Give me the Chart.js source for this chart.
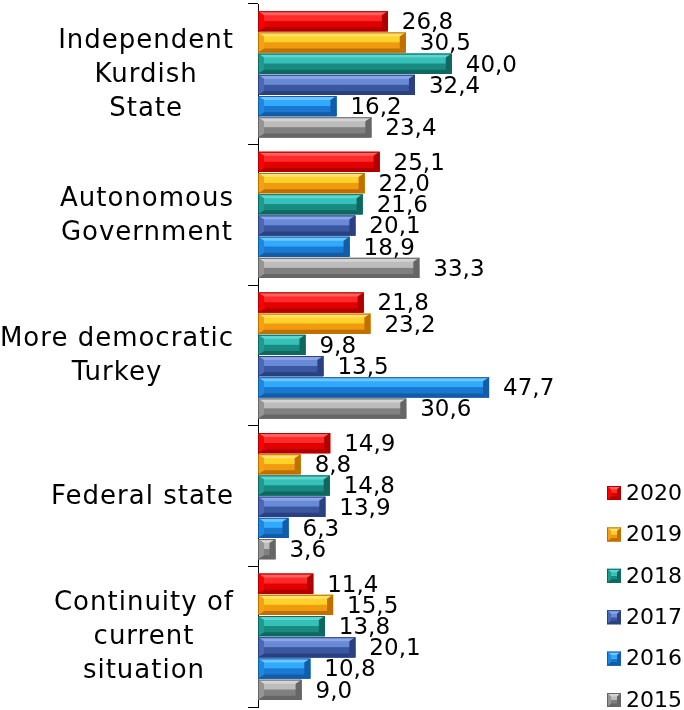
<!DOCTYPE html>
<html>
<head>
<meta charset="utf-8">
<script src="https://cdn.jsdelivr.net/npm/chart.js@4"></script>
<style>
  html, body { margin: 0; padding: 0; background: #fff; }
  #wrap { width: 684px; height: 710px; }
</style>
</head>
<body>
<div id="wrap"><canvas id="prefChart"></canvas></div>
<script>
// Categories (multi-line labels)
const categories = [
    ['Independent', 'Kurdish', 'State'],
    ['Autonomous', 'Government'],
    ['More democratic', 'Turkey'],
    ['Federal state'],
    ['Continuity of', 'current', 'situation']
];

const years = ['2020', '2019', '2018', '2017', '2016', '2015'];

// Values per year (%)
const values2020 = [26.8, 25.1, 21.8, 14.9, 11.4];
const values2019 = [30.5, 22.0, 23.2, 8.8, 15.5];
const values2018 = [40.0, 21.6, 9.8, 14.8, 13.8];
const values2017 = [32.4, 20.1, 13.5, 13.9, 20.1];
const values2016 = [16.2, 18.9, 47.7, 6.3, 10.8];
const values2015 = [23.4, 33.3, 30.6, 3.6, 9.0];

// face / light / dark / edge colours for the bevel look
const palette = [
    { face: '#ff0000', light: '#ff2a2a', dark: '#e00000', top: '#ff6060', bottom: '#b00000' },
    { face: '#f5a010', light: '#ffd22a', dark: '#f09a10', top: '#ffe070', bottom: '#c07000' },
    { face: '#1f9a90', light: '#36c0b8', dark: '#188a80', top: '#5cd6ce', bottom: '#0f6860' },
    { face: '#4a68b8', light: '#6a8ad8', dark: '#3a58a0', top: '#8aa6e6', bottom: '#2a4080' },
    { face: '#1e88e0', light: '#30aaff', dark: '#1a78d0', top: '#70c6ff', bottom: '#125ca8' },
    { face: '#959595', light: '#bcbcbc', dark: '#808080', top: '#d4d4d4', bottom: '#666666' }
];

const seriesValues = [values2020, values2019, values2018, values2017, values2016, values2015];

// Draw bevelled faces on top of each bar element
function bevelRect(ctx, c, x0, x1, y0, y1, b) {
    const mid = (y0 + y1) / 2;
    const t = Math.min(4, (y1 - y0) / 4);
    ctx.fillStyle = c.light;
    ctx.fillRect(x0, y0, x1 - x0, mid - y0);
    ctx.fillStyle = c.dark;
    ctx.fillRect(x0, mid, x1 - x0, y1 - mid);
    // top band
    ctx.fillStyle = c.top;
    ctx.beginPath();
    ctx.moveTo(x0, y0); ctx.lineTo(x1, y0);
    ctx.lineTo(x1 - b, y0 + t); ctx.lineTo(x0 + b, y0 + t);
    ctx.closePath(); ctx.fill();
    // bottom band
    ctx.fillStyle = c.bottom;
    ctx.beginPath();
    ctx.moveTo(x0, y1); ctx.lineTo(x1, y1);
    ctx.lineTo(x1 - b, y1 - t); ctx.lineTo(x0 + b, y1 - t);
    ctx.closePath(); ctx.fill();
    // left band
    ctx.fillStyle = c.face;
    ctx.beginPath();
    ctx.moveTo(x0, y0); ctx.lineTo(x0 + b, y0 + t);
    ctx.lineTo(x0 + b, y1 - t); ctx.lineTo(x0, y1);
    ctx.closePath(); ctx.fill();
    // right band
    ctx.fillStyle = c.bottom;
    ctx.beginPath();
    ctx.moveTo(x1, y0); ctx.lineTo(x1 - b, y0 + t);
    ctx.lineTo(x1 - b, y1 - t); ctx.lineTo(x1, y1);
    ctx.closePath(); ctx.fill();
    ctx.strokeStyle = c.bottom;
    ctx.lineWidth = 1;
    ctx.strokeRect(x0 + 0.5, y0 + 0.5, x1 - x0 - 1, y1 - y0 - 1);
}

const bevelPlugin = {
    id: 'bevel',
    afterDatasetsDraw(chart) {
        const ctx = chart.ctx;
        chart.data.datasets.forEach((ds, i) => {
            const meta = chart.getDatasetMeta(i);
            meta.data.forEach(bar => {
                const x0 = bar.base, x1 = bar.x;
                const y0 = bar.y - bar.height / 2, y1 = bar.y + bar.height / 2;
                ctx.save();
                bevelRect(ctx, palette[i], x0, x1, y0, y1, Math.min(6, (x1 - x0) / 2));
                ctx.restore();
            });
        });
    }
};

// Value labels at bar ends, decimal comma
const valueLabels = {
    id: 'valueLabels',
    afterDatasetsDraw(chart) {
        const ctx = chart.ctx;
        ctx.save();
        ctx.font = '23px "DejaVu Sans"';
        ctx.fillStyle = '#000';
        ctx.textAlign = 'left';
        ctx.textBaseline = 'middle';
        chart.data.datasets.forEach((ds, i) => {
            const meta = chart.getDatasetMeta(i);
            meta.data.forEach((bar, j) => {
                const txt = ds.data[j].toFixed(1).replace('.', ',');
                ctx.fillText(txt, bar.x + 14, bar.y + 2);
            });
        });
        ctx.restore();
    }
};

// Category labels: block right-aligned, lines centred inside the block
const categoryLabels = {
    id: 'categoryLabels',
    afterDraw(chart) {
        const ctx = chart.ctx;
        const scale = chart.scales.y;
        const lineH = 34;
        ctx.save();
        ctx.font = '26px "DejaVu Sans"';
        ctx.letterSpacing = '1px';
        ctx.fillStyle = '#000';
        ctx.textAlign = 'center';
        ctx.textBaseline = 'middle';
        chart.data.labels.forEach((lines, i) => {
            const cy = scale.getPixelForTick(i);
            const blockW = Math.max(...lines.map(l => ctx.measureText(l).width));
            const cx = 234 - blockW / 2;
            lines.forEach((l, k) => {
                ctx.fillText(l, cx, cy + (k - (lines.length - 1) / 2) * lineH + 1);
            });
        });
        ctx.restore();
    }
};

// Legend in the bottom-right corner
const sideLegend = {
    id: 'sideLegend',
    afterDraw(chart) {
        const ctx = chart.ctx;
        ctx.save();
        ctx.font = '22px "DejaVu Sans"';
        ctx.textBaseline = 'middle';
        chart.data.datasets.forEach((ds, i) => {
            const cy = 493 + i * 41.4;
            bevelRect(ctx, palette[i], 607, 621, cy - 7, cy + 7, 4);
            ctx.fillStyle = '#000';
            ctx.fillText(ds.label, 626, cy + 1);
        });
        ctx.restore();
    }
};

new Chart(document.getElementById('prefChart'), {
    type: 'bar',
    data: {
        labels: categories,
        datasets: years.map((y, i) => ({
            label: y,
            data: seriesValues[i],
            backgroundColor: palette[i].face,
            borderWidth: 0,
            categoryPercentage: 0.905,
            barPercentage: 0.95
        }))
    },
    options: {
        indexAxis: 'y',
        responsive: true,
        maintainAspectRatio: false,
        animation: false,
        layout: { padding: { top: 4, bottom: 3, left: 0, right: 84 } },
        plugins: {
            legend: { display: false },
            tooltip: { enabled: false }
        },
        scales: {
            x: {
                display: false,
                min: 0,
                max: 70.6
            },
            y: {
                border: { display: true, color: '#000', width: 1 },
                grid: {
                    drawOnChartArea: false,
                    drawTicks: true,
                    tickLength: 10,
                    color: '#000'
                },
                ticks: { display: false },
                afterFit(scale) {
                    scale.width = 258;
                    scale.paddingTop = 0;
                    scale.paddingBottom = 0;
                }
            }
        }
    },
    plugins: [bevelPlugin, valueLabels, categoryLabels, sideLegend]
});
</script>
</body>
</html>
